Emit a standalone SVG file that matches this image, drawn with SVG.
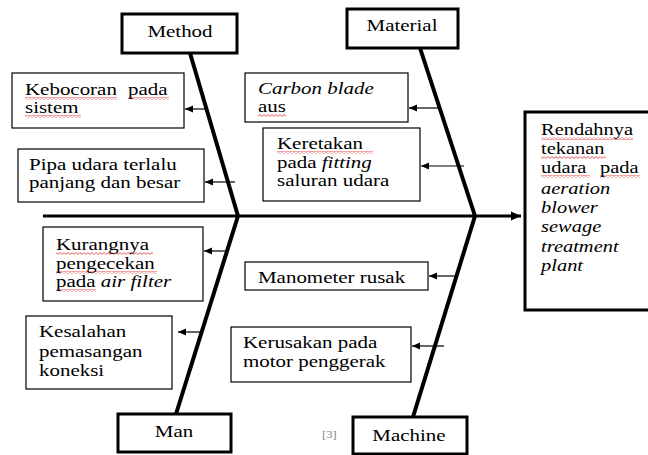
<svg xmlns="http://www.w3.org/2000/svg" width="648" height="455" viewBox="0 0 648 455">
<style>
.cat{fill:#fff;stroke:#000;stroke-width:3}
.box{fill:#fff;stroke:#000;stroke-width:1.2}
.spine{stroke:#000;stroke-width:4;fill:none;stroke-linecap:butt}
.main{stroke:#000;stroke-width:3;fill:none}
.br{stroke:#000;stroke-width:1.2;fill:none}
text{font-family:"Liberation Serif","Times New Roman",serif;font-size:16.5px;fill:#000}
.it{font-style:italic}
.ref{font-size:10px;fill:#888}
.sq{fill:url(#wave)}
</style>
<defs>
<marker id="ah" markerUnits="userSpaceOnUse" markerWidth="9" markerHeight="8" refX="8" refY="4" orient="auto">
<path d="M0,0.5 L8,4 L0,7.5 Z" fill="#000"/>
</marker>
<marker id="ahm" markerUnits="userSpaceOnUse" markerWidth="11" markerHeight="10" refX="10" refY="5" orient="auto">
<path d="M0,0.5 L10,5 L0,9.5 Z" fill="#000"/>
</marker>
<pattern id="wave" patternUnits="userSpaceOnUse" width="4" height="3">
<path d="M0,0.6 L2,2.4 L4,0.6" stroke="#e03030" stroke-width="0.8" fill="none"/>
</pattern>
</defs>

<g id="connectors">
<line class="main" x1="43" y1="216" x2="521" y2="216" marker-end="url(#ahm)"/>
<line class="spine" x1="190" y1="53" x2="238" y2="216"/>
<line class="spine" x1="420" y1="48" x2="475" y2="216"/>
<line class="spine" x1="238" y1="216" x2="176" y2="414"/>
<line class="spine" x1="475" y1="216" x2="413" y2="417"/>
<line class="br" x1="206" y1="109" x2="185" y2="109" marker-end="url(#ah)"/>
<line class="br" x1="235" y1="182" x2="205" y2="182" marker-end="url(#ah)"/>
<line class="br" x1="438" y1="108" x2="409" y2="108" marker-end="url(#ah)"/>
<line class="br" x1="464" y1="166" x2="421" y2="166" marker-end="url(#ah)"/>
<line class="br" x1="227" y1="251" x2="204" y2="251" marker-end="url(#ah)"/>
<line class="br" x1="201" y1="332" x2="178" y2="332" marker-end="url(#ah)"/>
<line class="br" x1="455" y1="276" x2="429" y2="276" marker-end="url(#ah)"/>
<line class="br" x1="444" y1="346" x2="412" y2="346" marker-end="url(#ah)"/>
</g>

<g id="method">
<rect class="cat" x="122" y="14" width="115" height="39"/>
<text x="180" y="37.5" text-anchor="middle" transform="translate(180 0) scale(1.27 1) translate(-180 0)">Method</text>
</g>
<g id="material">
<rect class="cat" x="347" y="9" width="111" height="39"/>
<text x="402" y="31.5" text-anchor="middle" transform="translate(402 0) scale(1.27 1) translate(-402 0)">Material</text>
</g>
<g id="man">
<rect class="cat" x="118" y="414" width="113" height="38"/>
<text x="174" y="437" text-anchor="middle" transform="translate(174 0) scale(1.27 1) translate(-174 0)">Man</text>
</g>
<g id="machine">
<rect class="cat" x="353" y="417" width="114" height="37"/>
<text x="409" y="441" text-anchor="middle" transform="translate(409 0) scale(1.27 1) translate(-409 0)">Machine</text>
</g>
<text class="ref" transform="translate(322 438) scale(1.27 1)">[3]</text>

<g id="result">
<rect class="cat" x="525" y="112" width="130" height="198"/>
<rect class="sq" x="541" y="137" width="92" height="3"/>
<rect class="sq" x="541" y="156" width="65" height="3"/>
<rect class="sq" x="541" y="175" width="49" height="3"/>
<rect class="sq" x="600" y="175" width="40" height="3"/>
<text transform="translate(541 0) scale(1.24 1)">
<tspan x="0" y="135">Rendahnya</tspan>
<tspan x="0" y="154">tekanan</tspan>
<tspan x="0" y="173">udara</tspan><tspan x="47.6" y="173">pada</tspan>
<tspan class="it" x="0" y="194">aeration</tspan>
<tspan class="it" x="0" y="213">blower</tspan>
<tspan class="it" x="0" y="232.5">sewage</tspan>
<tspan class="it" x="0" y="252">treatment</tspan>
<tspan class="it" x="0" y="271">plant</tspan>
</text>
</g>

<g id="kebocoran">
<rect class="box" x="12" y="73" width="172" height="55"/>
<rect class="sq" x="25" y="97" width="92" height="3"/>
<rect class="sq" x="128" y="97" width="41" height="3"/>
<rect class="sq" x="25" y="115" width="56" height="3"/>
<text transform="translate(25 0) scale(1.27 1)">
<tspan x="0" y="95">Kebocoran</tspan><tspan x="81.1" y="95">pada</tspan>
<tspan x="0" y="113">sistem</tspan>
</text>
</g>

<g id="pipa">
<rect class="box" x="18" y="149" width="186" height="53"/>
<text transform="translate(29 0) scale(1.27 1)">
<tspan x="0" y="170">Pipa udara terlalu</tspan>
<tspan x="0" y="188">panjang dan besar</tspan>
</text>
</g>

<g id="carbon">
<rect class="box" x="245" y="73" width="163" height="49"/>
<rect class="sq" x="258" y="114" width="28" height="3"/>
<text transform="translate(258 0) scale(1.27 1)">
<tspan class="it" x="0" y="94.5">Carbon blade</tspan>
<tspan x="0" y="112.5">aus</tspan>
</text>
</g>

<g id="keretakan">
<rect class="box" x="263" y="128" width="157" height="73"/>
<rect class="sq" x="277" y="151" width="96" height="3"/>
<text transform="translate(277 0) scale(1.27 1)">
<tspan x="0" y="149">Keretakan</tspan>
<tspan x="0" y="168">pada <tspan class="it">fitting</tspan></tspan>
<tspan x="0" y="186.5">saluran udara</tspan>
</text>
</g>

<g id="kurangnya">
<rect class="box" x="43" y="227" width="160" height="74"/>
<rect class="sq" x="56" y="252" width="97" height="3"/>
<rect class="sq" x="56" y="271" width="101" height="3"/>
<rect class="sq" x="56" y="289" width="40" height="3"/>
<text transform="translate(56 0) scale(1.27 1)">
<tspan x="0" y="250">Kurangnya</tspan>
<tspan x="0" y="269">pengecekan</tspan>
<tspan x="0" y="287.5">pada <tspan class="it">air filter</tspan></tspan>
</text>
</g>

<g id="kesalahan">
<rect class="box" x="26" y="316" width="146" height="73"/>
<text transform="translate(39 0) scale(1.27 1)">
<tspan x="0" y="337.5">Kesalahan</tspan>
<tspan x="0" y="357">pemasangan</tspan>
<tspan x="0" y="376">koneksi</tspan>
</text>
</g>

<g id="manometer">
<rect class="box" x="245" y="262" width="183" height="28"/>
<text transform="translate(258 0) scale(1.27 1)"><tspan x="0" y="283">Manometer rusak</tspan></text>
</g>

<g id="kerusakan">
<rect class="box" x="231" y="327" width="180" height="55"/>
<text transform="translate(243 0) scale(1.27 1)">
<tspan x="0" y="348">Kerusakan pada</tspan>
<tspan x="0" y="367">motor penggerak</tspan>
</text>
</g>
</svg>
